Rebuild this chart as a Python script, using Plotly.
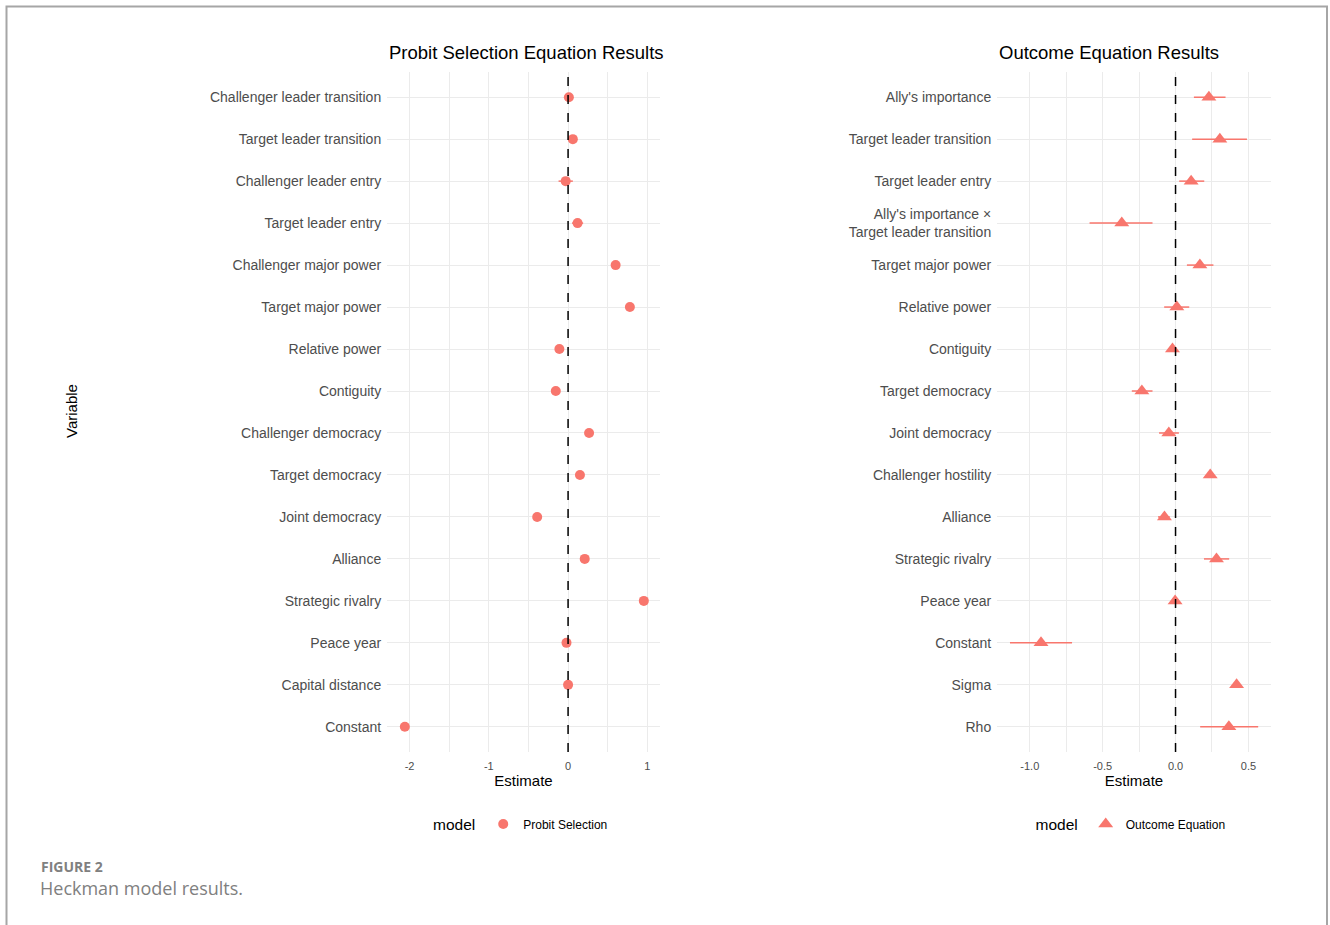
import plotly.graph_objects as go

W, H = 1330, 925

# ---------------- data ----------------
labels_sel = ["Challenger leader transition", "Target leader transition", "Challenger leader entry",
              "Target leader entry", "Challenger major power", "Target major power", "Relative power",
              "Contiguity", "Challenger democracy", "Target democracy", "Joint democracy", "Alliance",
              "Strategic rivalry", "Peace year", "Capital distance", "Constant"]
est_sel = [0.01, 0.06, -0.03, 0.12, 0.60, 0.78, -0.11, -0.155, 0.265, 0.15, -0.39, 0.21, 0.956, -0.02, 0.0, -2.06]
lo_sel = [-0.04, 0.01, -0.12, 0.05, 0.56, 0.74, -0.14, -0.19, 0.23, 0.11, -0.43, 0.17, 0.92, -0.03, -0.01, -2.10]
hi_sel = [0.06, 0.11, 0.06, 0.19, 0.64, 0.82, -0.08, -0.12, 0.30, 0.19, -0.35, 0.25, 0.99, -0.01, 0.01, -2.02]

labels_out = ["Ally's importance", "Target leader transition", "Target leader entry",
              "Ally's importance ×<br>Target leader transition", "Target major power", "Relative power",
              "Contiguity", "Target democracy", "Joint democracy", "Challenger hostility", "Alliance",
              "Strategic rivalry", "Peace year", "Constant", "Sigma", "Rho"]
est_out = [0.229, 0.304, 0.107, -0.369, 0.167, 0.009, -0.021, -0.231, -0.046, 0.238, -0.076, 0.281, -0.003, -0.923, 0.419, 0.366]
lo_out = [0.126, 0.114, 0.025, -0.59, 0.078, -0.078, -0.04, -0.30, -0.113, 0.22, -0.12, 0.195, -0.01, -1.136, 0.40, 0.169]
hi_out = [0.343, 0.49, 0.197, -0.158, 0.26, 0.094, 0.0, -0.158, 0.023, 0.26, -0.04, 0.368, 0.005, -0.71, 0.44, 0.567]

ticks_sel = [-2, -1, 0, 1]
ticktext_sel = ["-2", "-1", "0", "1"]
ticks_out = [-1.0, -0.5, 0.0, 0.5]
ticktext_out = ["-1.0", "-0.5", "0.0", "0.5"]

COLOR = "#F8766D"
GRID = "#ebebeb"
FONT = "Liberation Sans, Arial, sans-serif"


def px(x):
    return x / W


def py(y):
    return 1 - y / H


fig = go.Figure()

fig.add_trace(go.Scatter(
    x=est_sel, y=labels_sel, mode="markers", name="Probit Selection",
    marker=dict(symbol="circle", size=10, color=COLOR),
    error_x=dict(type="data", symmetric=False,
                 array=[h - e for h, e in zip(hi_sel, est_sel)],
                 arrayminus=[e - l for e, l in zip(est_sel, lo_sel)],
                 color=COLOR, thickness=1.5, width=0),
    xaxis="x", yaxis="y", legend="legend"))

fig.add_trace(go.Scatter(
    x=est_out, y=labels_out, mode="markers", name="Outcome Equation",
    marker=dict(symbol="triangle-up", size=13, color=COLOR),
    error_x=dict(type="data", symmetric=False,
                 array=[h - e for h, e in zip(hi_out, est_out)],
                 arrayminus=[e - l for e, l in zip(est_out, lo_out)],
                 color=COLOR, thickness=1.5, width=0),
    xaxis="x2", yaxis="y2", legend="legend2"))

ydom = [py(752), py(72)]
common_x = dict(showline=False, zeroline=False, showgrid=True, gridcolor=GRID, gridwidth=1.1,
                ticks="outside", ticklen=4, tickcolor="rgba(0,0,0,0)",
                tickfont=dict(family=FONT, size=11, color="#4d4d4d"))
common_y = dict(showline=False, zeroline=False, showgrid=True, gridcolor=GRID, gridwidth=1.1,
                ticks="outside", ticklen=2, tickcolor="rgba(0,0,0,0)",
                tickfont=dict(family=FONT, size=14, color="#4d4d4d"),
                range=[15.6, -0.6], type="category")

fig.update_layout(
    width=W, height=H, margin=dict(l=0, r=0, t=0, b=0),
    paper_bgcolor="white", plot_bgcolor="white",
    font=dict(family=FONT),
    xaxis=dict(domain=[px(387), px(660)], range=[-2.285, 1.16], tickvals=ticks_sel,
               ticktext=ticktext_sel,
               title=dict(text="Estimate", font=dict(family=FONT, size=15, color="#000"), standoff=4),
               minor=dict(dtick=0.5, tick0=0, showgrid=True, gridcolor=GRID, gridwidth=0.8),
               anchor="y", **common_x),
    yaxis=dict(domain=ydom, anchor="x", categoryorder="array", categoryarray=labels_sel, **common_y),
    xaxis2=dict(domain=[px(997), px(1271)], range=[-1.225, 0.655], tickvals=ticks_out,
                ticktext=ticktext_out,
                title=dict(text="Estimate", font=dict(family=FONT, size=15, color="#000"), standoff=2),
                minor=dict(dtick=0.25, tick0=0, showgrid=True, gridcolor=GRID, gridwidth=0.8),
                anchor="y2", **common_x),
    yaxis2=dict(domain=ydom, anchor="x2", categoryorder="array", categoryarray=labels_out, **common_y),
    legend=dict(orientation="h", x=px(522), y=py(825), xanchor="center", yanchor="middle",
                title=dict(text="model", side="left", font=dict(family=FONT, size=15.5, color="#000")),
                font=dict(family=FONT, size=12, color="#000"), bgcolor="rgba(0,0,0,0)"),
    legend2=dict(orientation="h", x=px(1132), y=py(825), xanchor="center", yanchor="middle",
                 title=dict(text="model", side="left", font=dict(family=FONT, size=15.5, color="#000")),
                 font=dict(family=FONT, size=12, color="#000"), bgcolor="rgba(0,0,0,0)"),
    showlegend=True,
)

# dashed zero reference lines
fig.add_shape(type="line", xref="x", yref="y domain", x0=0, x1=0, y0=0, y1=1,
              line=dict(color="#000", width=1.5, dash="dash"))
fig.add_shape(type="line", xref="x2", yref="y2 domain", x0=0, x1=0, y0=0, y1=1,
              line=dict(color="#000", width=1.5, dash="dash"))

# outer frame
fig.add_shape(type="rect", xref="paper", yref="paper", x0=px(6.5), x1=px(1327), y0=-0.02, y1=py(6.5),
              line=dict(color="#a6a6a6", width=2), fillcolor="rgba(0,0,0,0)", layer="above")

annotations = [
    dict(text="Probit Selection Equation Results", x=px(387), y=py(53), xanchor="left", yanchor="middle",
         font=dict(family=FONT, size=18.5, color="#000")),
    dict(text="Outcome Equation Results", x=px(997), y=py(53), xanchor="left", yanchor="middle",
         font=dict(family=FONT, size=18.5, color="#000")),
    dict(text="Variable", x=px(71), y=py(411), xanchor="center", yanchor="middle", textangle=-90,
         font=dict(family=FONT, size=15, color="#000")),
    dict(text="<b>FIGURE 2</b>", x=px(39), y=py(866), xanchor="left", yanchor="middle",
         font=dict(family="Open Sans, sans-serif", size=14, color="#808080")),
    dict(text="Heckman model results.", x=px(38), y=py(888), xanchor="left", yanchor="middle",
         font=dict(family="Open Sans, sans-serif", size=18, color="#808080")),
]
for a in annotations:
    a.update(xref="paper", yref="paper", showarrow=False)
fig.update_layout(annotations=annotations)

fig.write_html("out.html")
